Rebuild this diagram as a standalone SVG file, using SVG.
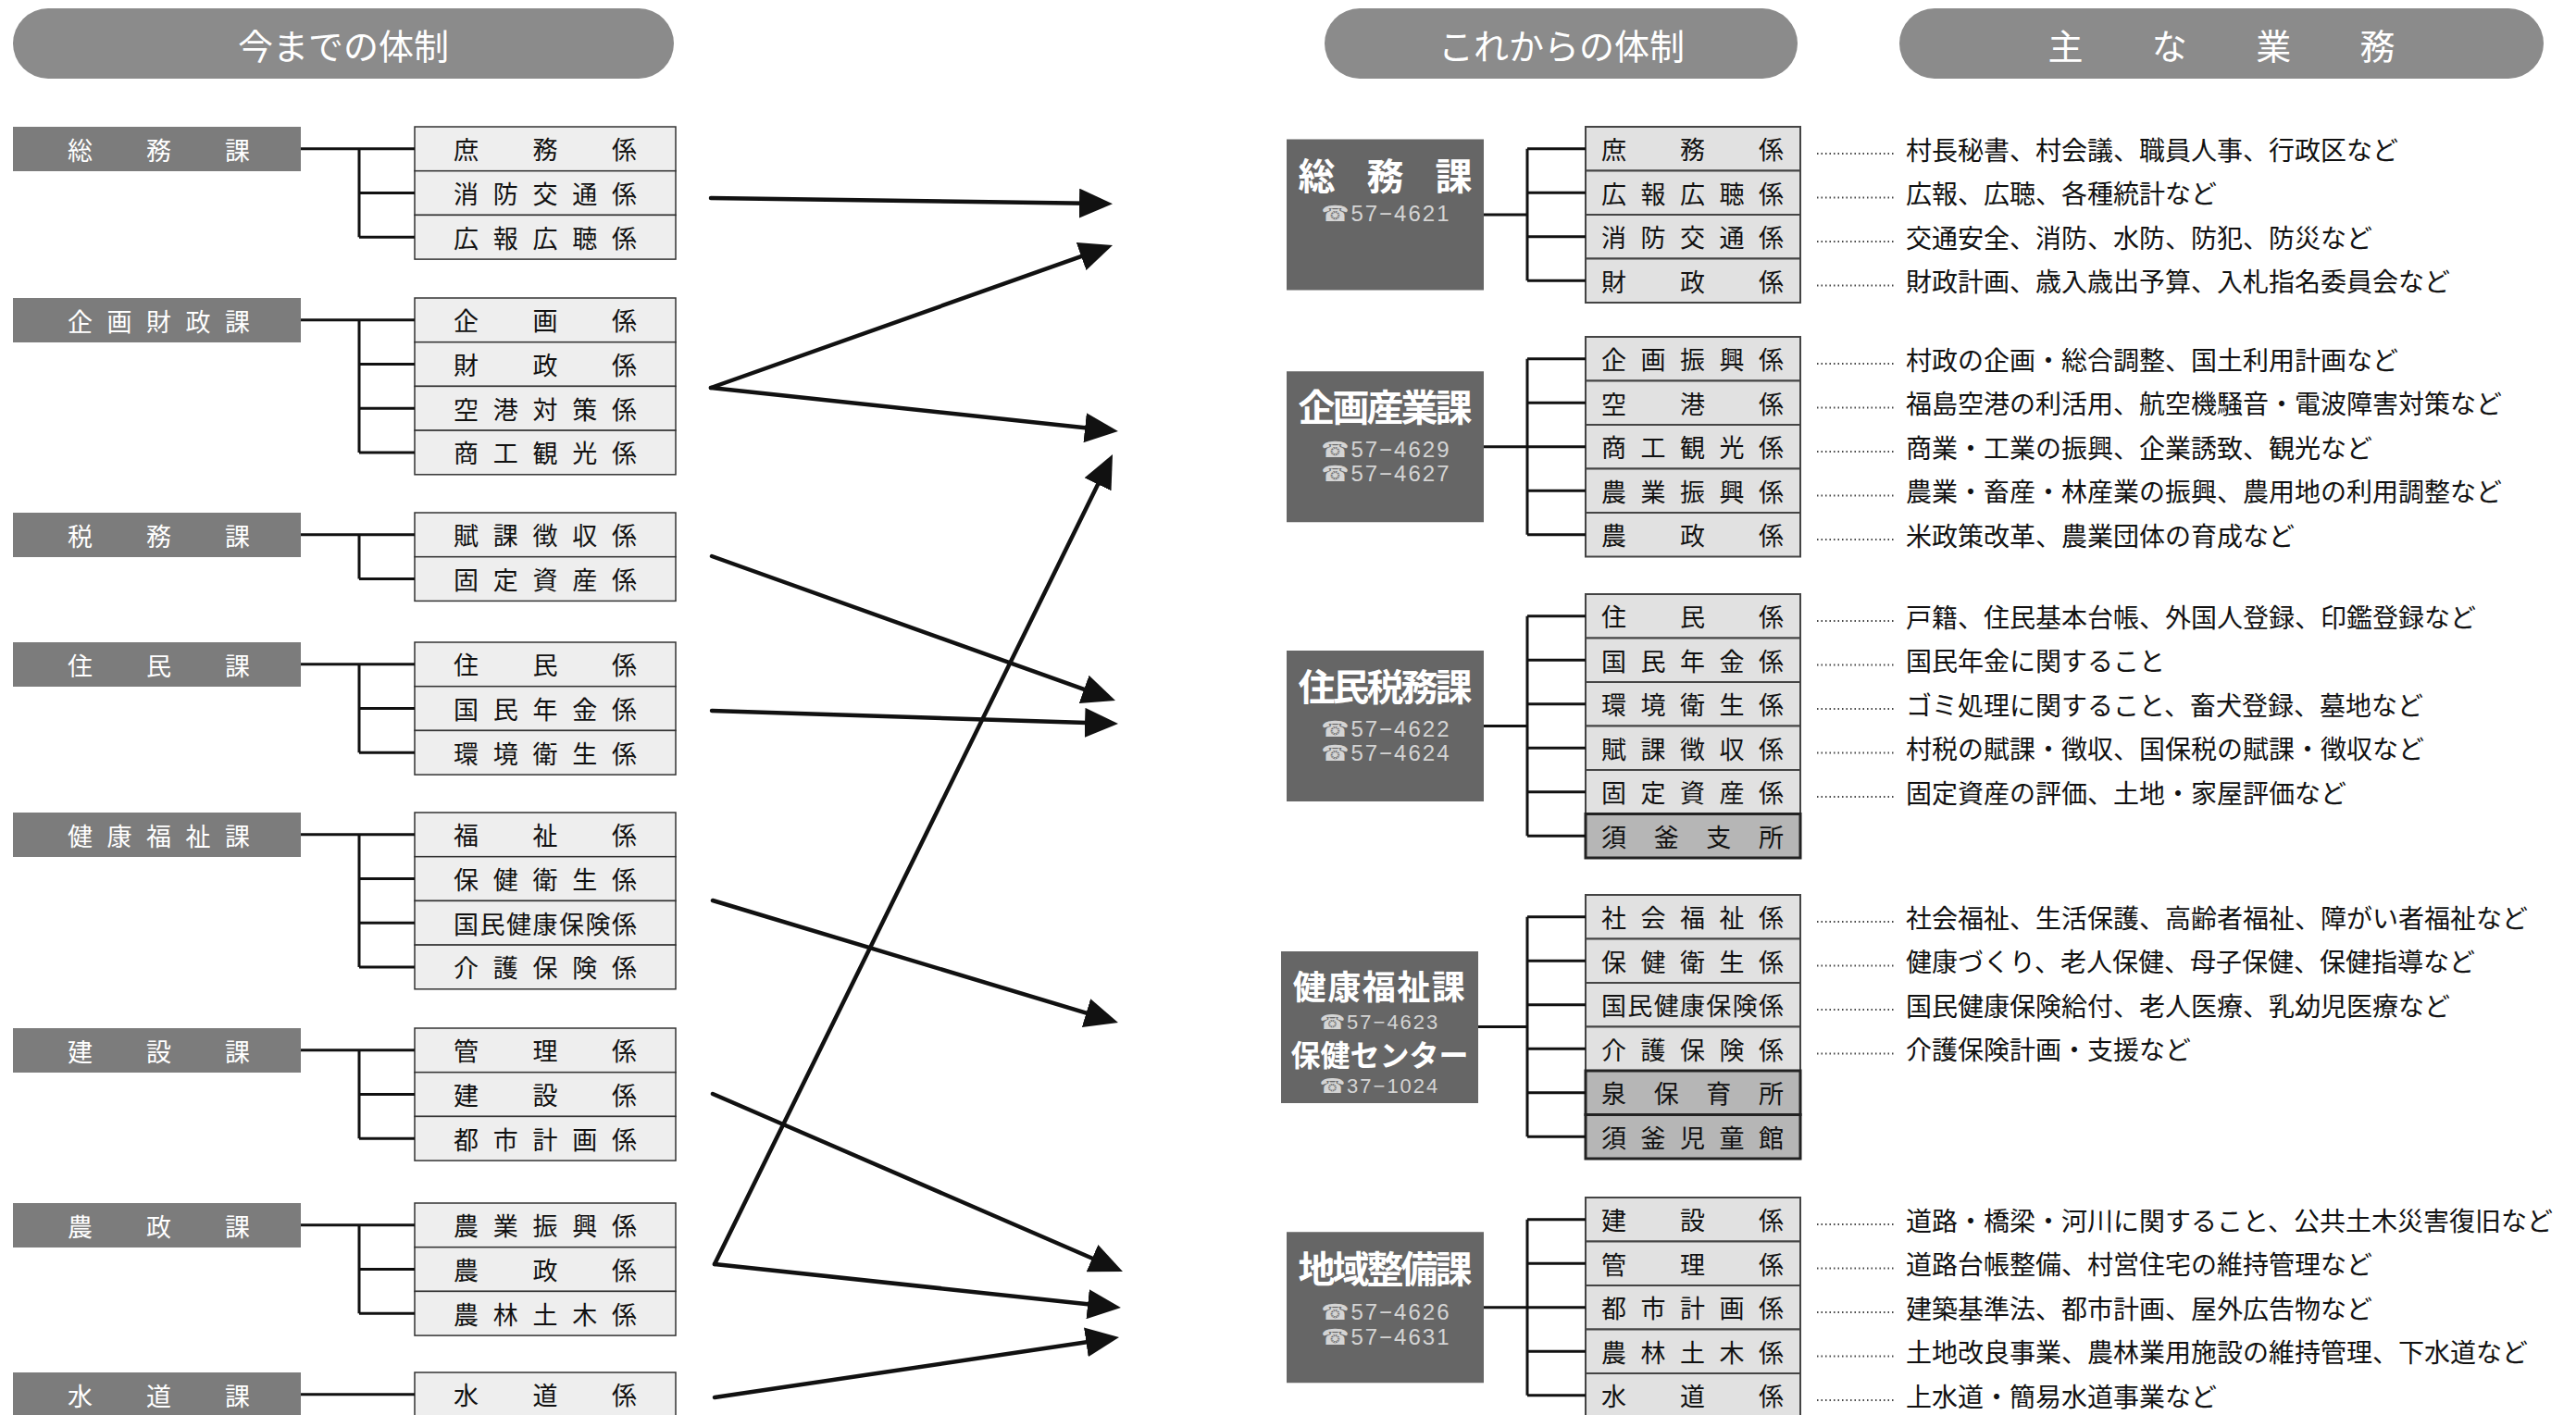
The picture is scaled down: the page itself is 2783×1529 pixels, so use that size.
<svg xmlns="http://www.w3.org/2000/svg" width="2783" height="1529" viewBox="0 0 2783 1529">
<defs>
<style>
text{font-family:"Noto Sans CJK JP",sans-serif;dominant-baseline:central}
.hdr{fill:#8b8b8b}
.hdrt{font-size:38px;fill:#fff;text-anchor:middle}
.od{fill:#7c7c7c}
.odt{font-size:27px;fill:#fff}
.os{fill:#eeeeee;stroke:#333;stroke-width:1.5}
.st{font-size:27px;fill:#111}
.nd{fill:#666}
.ndt{font-size:40px;font-weight:bold;fill:#fff;text-anchor:middle}
.ph{font-family:"Liberation Sans","DejaVu Sans",sans-serif;font-size:24px;fill:#d4d4d4;text-anchor:middle}
.ns{fill:#e1e1e1;stroke:#444;stroke-width:2}
.ns2{fill:#b6b6b6;stroke:#222;stroke-width:3}
.desc{font-size:28px;fill:#111}
.conn{stroke:#111;stroke-width:3;fill:none}
.lead{stroke:#444;stroke-width:2;stroke-dasharray:1.5 3;fill:none}
.arr{stroke:#111;stroke-width:4.5;fill:none;marker-end:url(#ah)}
</style>
<marker id="ah" markerUnits="userSpaceOnUse" markerWidth="36" markerHeight="32" refX="26" refY="16" orient="auto">
<path d="M0,0 L36,16 L0,32 Z" fill="#111"/>
</marker>
</defs>
<rect width="2783" height="1529" fill="#fff"/>

<!-- headers -->
<g id="hdr-old"><rect class="hdr" x="14" y="9" width="714" height="76" rx="38"/><text class="hdrt" x="371" y="47">今までの体制</text></g>
<g id="hdr-new"><rect class="hdr" x="1431" y="9" width="511" height="76" rx="38"/><text class="hdrt" x="1687" y="47">これからの体制</text></g>
<g id="hdr-duty"><rect class="hdr" x="2052" y="9" width="696" height="76" rx="38"/><text class="hdrt" x="2400" y="47" font-size="40" textLength="375" lengthAdjust="spacing">主　な　業　務</text></g>

<!-- old structure -->
<g id="old-somu" transform="translate(0,137)">
<rect class="od" x="14" y="0" width="311" height="48"/><text class="odt" x="73" y="24" textLength="197" lengthAdjust="spacing">総　務　課</text>
<rect class="os" x="448" y="0" width="282" height="47.7"/><text class="st" x="490" y="23.85" textLength="198" lengthAdjust="spacing">庶　務　係</text>
<rect class="os" x="448" y="47.7" width="282" height="47.7"/><text class="st" x="490" y="71.55" textLength="198" lengthAdjust="spacing">消防交通係</text>
<rect class="os" x="448" y="95.4" width="282" height="47.7"/><text class="st" x="490" y="119.25" textLength="198" lengthAdjust="spacing">広報広聴係</text>
</g>
<g id="old-kikakuzaisei" transform="translate(0,322)">
<rect class="od" x="14" y="0" width="311" height="48"/><text class="odt" x="73" y="24" textLength="197" lengthAdjust="spacing">企画財政課</text>
<rect class="os" x="448" y="0" width="282" height="47.7"/><text class="st" x="490" y="23.85" textLength="198" lengthAdjust="spacing">企　画　係</text>
<rect class="os" x="448" y="47.7" width="282" height="47.7"/><text class="st" x="490" y="71.55" textLength="198" lengthAdjust="spacing">財　政　係</text>
<rect class="os" x="448" y="95.4" width="282" height="47.7"/><text class="st" x="490" y="119.25" textLength="198" lengthAdjust="spacing">空港対策係</text>
<rect class="os" x="448" y="143.1" width="282" height="47.7"/><text class="st" x="490" y="166.95" textLength="198" lengthAdjust="spacing">商工観光係</text>
</g>
<g id="old-zeimu" transform="translate(0,554)">
<rect class="od" x="14" y="0" width="311" height="48" fill="#888"/><text class="odt" x="73" y="24" textLength="197" lengthAdjust="spacing">税　務　課</text>
<rect class="os" x="448" y="0" width="282" height="47.7"/><text class="st" x="490" y="23.85" textLength="198" lengthAdjust="spacing">賦課徴収係</text>
<rect class="os" x="448" y="47.7" width="282" height="47.7"/><text class="st" x="490" y="71.55" textLength="198" lengthAdjust="spacing">固定資産係</text>
</g>
<g id="old-jumin" transform="translate(0,694)">
<rect class="od" x="14" y="0" width="311" height="48"/><text class="odt" x="73" y="24" textLength="197" lengthAdjust="spacing">住　民　課</text>
<rect class="os" x="448" y="0" width="282" height="47.7"/><text class="st" x="490" y="23.85" textLength="198" lengthAdjust="spacing">住　民　係</text>
<rect class="os" x="448" y="47.7" width="282" height="47.7"/><text class="st" x="490" y="71.55" textLength="198" lengthAdjust="spacing">国民年金係</text>
<rect class="os" x="448" y="95.4" width="282" height="47.7"/><text class="st" x="490" y="119.25" textLength="198" lengthAdjust="spacing">環境衛生係</text>
</g>
<g id="old-kenkofukushi" transform="translate(0,878)">
<rect class="od" x="14" y="0" width="311" height="48"/><text class="odt" x="73" y="24" textLength="197" lengthAdjust="spacing">健康福祉課</text>
<rect class="os" x="448" y="0" width="282" height="47.7"/><text class="st" x="490" y="23.85" textLength="198" lengthAdjust="spacing">福　祉　係</text>
<rect class="os" x="448" y="47.7" width="282" height="47.7"/><text class="st" x="490" y="71.55" textLength="198" lengthAdjust="spacing">保健衛生係</text>
<rect class="os" x="448" y="95.4" width="282" height="47.7"/><text class="st" x="490" y="119.25" textLength="198" lengthAdjust="spacing">国民健康保険係</text>
<rect class="os" x="448" y="143.1" width="282" height="47.7"/><text class="st" x="490" y="166.95" textLength="198" lengthAdjust="spacing">介護保険係</text>
</g>
<g id="old-kensetsu" transform="translate(0,1111)">
<rect class="od" x="14" y="0" width="311" height="48"/><text class="odt" x="73" y="24" textLength="197" lengthAdjust="spacing">建　設　課</text>
<rect class="os" x="448" y="0" width="282" height="47.7"/><text class="st" x="490" y="23.85" textLength="198" lengthAdjust="spacing">管　理　係</text>
<rect class="os" x="448" y="47.7" width="282" height="47.7"/><text class="st" x="490" y="71.55" textLength="198" lengthAdjust="spacing">建　設　係</text>
<rect class="os" x="448" y="95.4" width="282" height="47.7"/><text class="st" x="490" y="119.25" textLength="198" lengthAdjust="spacing">都市計画係</text>
</g>
<g id="old-nosei" transform="translate(0,1300)">
<rect class="od" x="14" y="0" width="311" height="48"/><text class="odt" x="73" y="24" textLength="197" lengthAdjust="spacing">農　政　課</text>
<rect class="os" x="448" y="0" width="282" height="47.7"/><text class="st" x="490" y="23.85" textLength="198" lengthAdjust="spacing">農業振興係</text>
<rect class="os" x="448" y="47.7" width="282" height="47.7"/><text class="st" x="490" y="71.55" textLength="198" lengthAdjust="spacing">農　政　係</text>
<rect class="os" x="448" y="95.4" width="282" height="47.7"/><text class="st" x="490" y="119.25" textLength="198" lengthAdjust="spacing">農林土木係</text>
</g>
<g id="old-suido" transform="translate(0,1483)">
<rect class="od" x="14" y="0" width="311" height="48" fill="#888"/><text class="odt" x="73" y="24" textLength="197" lengthAdjust="spacing">水　道　課</text>
<rect class="os" x="448" y="0" width="282" height="47.7"/><text class="st" x="490" y="23.85" textLength="198" lengthAdjust="spacing">水　道　係</text>
</g>

<!-- new structure -->
<g id="new-somu" transform="translate(0,137)">
<rect class="nd" x="1390" y="13.5" width="213" height="163"/>
<text class="ndt" x="1496.5" y="50.5" textLength="188" lengthAdjust="spacing">総　務　課</text>
<text class="ph" x="1496.5" y="93.5" textLength="138" lengthAdjust="spacing">☎57−4621</text>
<rect class="ns" x="1713" y="0" width="232" height="47.5"/><text class="st" x="1730" y="23.75" textLength="197" lengthAdjust="spacing">庶　務　係</text>
<rect class="ns" x="1713" y="47.5" width="232" height="47.5"/><text class="st" x="1730" y="71.25" textLength="197" lengthAdjust="spacing">広報広聴係</text>
<rect class="ns" x="1713" y="95" width="232" height="47.5"/><text class="st" x="1730" y="118.75" textLength="197" lengthAdjust="spacing">消防交通係</text>
<rect class="ns" x="1713" y="142.5" width="232" height="47.5"/><text class="st" x="1730" y="166.25" textLength="197" lengthAdjust="spacing">財　政　係</text>
<text class="desc" x="2059" y="23.75">村長秘書、村会議、職員人事、行政区など</text>
<text class="desc" x="2059" y="71.25">広報、広聴、各種統計など</text>
<text class="desc" x="2059" y="118.75">交通安全、消防、水防、防犯、防災など</text>
<text class="desc" x="2059" y="166.25">財政計画、歳入歳出予算、入札指名委員会など</text>
</g>
<g id="new-kikakusangyo" transform="translate(0,364)">
<rect class="nd" x="1390" y="37.25" width="213" height="163"/>
<text class="ndt" x="1496.5" y="74.25" textLength="188" lengthAdjust="spacing">企画産業課</text>
<text class="ph" x="1496.5" y="121.25" textLength="138" lengthAdjust="spacing">☎57−4629</text>
<text class="ph" x="1496.5" y="147.25" textLength="138" lengthAdjust="spacing">☎57−4627</text>
<rect class="ns" x="1713" y="0" width="232" height="47.5"/><text class="st" x="1730" y="23.75" textLength="197" lengthAdjust="spacing">企画振興係</text>
<rect class="ns" x="1713" y="47.5" width="232" height="47.5"/><text class="st" x="1730" y="71.25" textLength="197" lengthAdjust="spacing">空　港　係</text>
<rect class="ns" x="1713" y="95" width="232" height="47.5"/><text class="st" x="1730" y="118.75" textLength="197" lengthAdjust="spacing">商工観光係</text>
<rect class="ns" x="1713" y="142.5" width="232" height="47.5"/><text class="st" x="1730" y="166.25" textLength="197" lengthAdjust="spacing">農業振興係</text>
<rect class="ns" x="1713" y="190" width="232" height="47.5"/><text class="st" x="1730" y="213.75" textLength="197" lengthAdjust="spacing">農　政　係</text>
<text class="desc" x="2059" y="23.75">村政の企画・総合調整、国土利用計画など</text>
<text class="desc" x="2059" y="71.25">福島空港の利活用、航空機騒音・電波障害対策など</text>
<text class="desc" x="2059" y="118.75">商業・工業の振興、企業誘致、観光など</text>
<text class="desc" x="2059" y="166.25">農業・畜産・林産業の振興、農用地の利用調整など</text>
<text class="desc" x="2059" y="213.75">米政策改革、農業団体の育成など</text>
</g>
<g id="new-juminzeimu" transform="translate(0,642)">
<rect class="nd" x="1390" y="61" width="213" height="163"/>
<text class="ndt" x="1496.5" y="98" textLength="188" lengthAdjust="spacing">住民税務課</text>
<text class="ph" x="1496.5" y="145" textLength="138" lengthAdjust="spacing">☎57−4622</text>
<text class="ph" x="1496.5" y="171" textLength="138" lengthAdjust="spacing">☎57−4624</text>
<rect class="ns" x="1713" y="0" width="232" height="47.5"/><text class="st" x="1730" y="23.75" textLength="197" lengthAdjust="spacing">住　民　係</text>
<rect class="ns" x="1713" y="47.5" width="232" height="47.5"/><text class="st" x="1730" y="71.25" textLength="197" lengthAdjust="spacing">国民年金係</text>
<rect class="ns" x="1713" y="95" width="232" height="47.5"/><text class="st" x="1730" y="118.75" textLength="197" lengthAdjust="spacing">環境衛生係</text>
<rect class="ns" x="1713" y="142.5" width="232" height="47.5"/><text class="st" x="1730" y="166.25" textLength="197" lengthAdjust="spacing">賦課徴収係</text>
<rect class="ns" x="1713" y="190" width="232" height="47.5"/><text class="st" x="1730" y="213.75" textLength="197" lengthAdjust="spacing">固定資産係</text>
<rect class="ns2" x="1713" y="237.5" width="232" height="47.5"/><text class="st" x="1730" y="261.25" textLength="197" lengthAdjust="spacing">須　釜　支　所</text>
<text class="desc" x="2059" y="23.75">戸籍、住民基本台帳、外国人登録、印鑑登録など</text>
<text class="desc" x="2059" y="71.25">国民年金に関すること</text>
<text class="desc" x="2059" y="118.75">ゴミ処理に関すること、畜犬登録、墓地など</text>
<text class="desc" x="2059" y="166.25">村税の賦課・徴収、国保税の賦課・徴収など</text>
<text class="desc" x="2059" y="213.75">固定資産の評価、土地・家屋評価など</text>
</g>
<g id="new-kenkofukushi" transform="translate(0,967)">
<rect class="nd" x="1384" y="61" width="213" height="164"/>
<text text-anchor="middle" fill="#fff"><tspan x="1490.5" y="97" font-size="36" font-weight="bold" letter-spacing="1.5">健康福祉課</tspan><tspan x="1490.5" y="137" font-family="Liberation Sans, DejaVu Sans, sans-serif" font-size="22" fill="#d4d4d4" letter-spacing="2">☎57−4623</tspan><tspan x="1490.5" y="171" font-size="32" font-weight="bold">保健センター</tspan><tspan x="1490.5" y="206" font-family="Liberation Sans, DejaVu Sans, sans-serif" font-size="22" fill="#d4d4d4" letter-spacing="2">☎37−1024</tspan></text>
<rect class="ns" x="1713" y="0" width="232" height="47.5"/><text class="st" x="1730" y="23.75" textLength="197" lengthAdjust="spacing">社会福祉係</text>
<rect class="ns" x="1713" y="47.5" width="232" height="47.5"/><text class="st" x="1730" y="71.25" textLength="197" lengthAdjust="spacing">保健衛生係</text>
<rect class="ns" x="1713" y="95" width="232" height="47.5"/><text class="st" x="1730" y="118.75" textLength="197" lengthAdjust="spacing">国民健康保険係</text>
<rect class="ns" x="1713" y="142.5" width="232" height="47.5"/><text class="st" x="1730" y="166.25" textLength="197" lengthAdjust="spacing">介護保険係</text>
<rect class="ns2" x="1713" y="190" width="232" height="47.5"/><text class="st" x="1730" y="213.75" textLength="197" lengthAdjust="spacing">泉　保　育　所</text>
<rect class="ns2" x="1713" y="237.5" width="232" height="47.5"/><text class="st" x="1730" y="261.25" textLength="197" lengthAdjust="spacing">須釜児童館</text>
<text class="desc" x="2059" y="23.75">社会福祉、生活保護、高齢者福祉、障がい者福祉など</text>
<text class="desc" x="2059" y="71.25">健康づくり、老人保健、母子保健、保健指導など</text>
<text class="desc" x="2059" y="118.75">国民健康保険給付、老人医療、乳幼児医療など</text>
<text class="desc" x="2059" y="166.25">介護保険計画・支援など</text>
</g>
<g id="new-chiikiseibi" transform="translate(0,1294)">
<rect class="nd" x="1390" y="37.25" width="213" height="163"/>
<text class="ndt" x="1496.5" y="75" textLength="188" lengthAdjust="spacing">地域整備課</text>
<text class="ph" x="1496.5" y="123" textLength="138" lengthAdjust="spacing">☎57−4626</text>
<text class="ph" x="1496.5" y="150" textLength="138" lengthAdjust="spacing">☎57−4631</text>
<rect class="ns" x="1713" y="0" width="232" height="47.5"/><text class="st" x="1730" y="23.75" textLength="197" lengthAdjust="spacing">建　設　係</text>
<rect class="ns" x="1713" y="47.5" width="232" height="47.5"/><text class="st" x="1730" y="71.25" textLength="197" lengthAdjust="spacing">管　理　係</text>
<rect class="ns" x="1713" y="95" width="232" height="47.5"/><text class="st" x="1730" y="118.75" textLength="197" lengthAdjust="spacing">都市計画係</text>
<rect class="ns" x="1713" y="142.5" width="232" height="47.5"/><text class="st" x="1730" y="166.25" textLength="197" lengthAdjust="spacing">農林土木係</text>
<rect class="ns" x="1713" y="190" width="232" height="47.5"/><text class="st" x="1730" y="213.75" textLength="197" lengthAdjust="spacing">水　道　係</text>
<text class="desc" x="2059" y="23.75">道路・橋梁・河川に関すること、公共土木災害復旧など</text>
<text class="desc" x="2059" y="71.25">道路台帳整備、村営住宅の維持管理など</text>
<text class="desc" x="2059" y="118.75">建築基準法、都市計画、屋外広告物など</text>
<text class="desc" x="2059" y="166.25">土地改良事業、農林業用施設の維持管理、下水道など</text>
<text class="desc" x="2059" y="213.75">上水道・簡易水道事業など</text>
</g>

<!-- connectors -->
<g id="connectors">
<g class="conn">
<path transform="translate(0,137)" d="M325,23.85H448M388,23.85V119.25M388,71.55H448M388,119.25H448"/>
<path transform="translate(0,322)" d="M325,23.85H448M388,23.85V166.95M388,71.55H448M388,119.25H448M388,166.95H448"/>
<path transform="translate(0,554)" d="M325,23.85H448M388,23.85V71.55M388,71.55H448"/>
<path transform="translate(0,694)" d="M325,23.85H448M388,23.85V119.25M388,71.55H448M388,119.25H448"/>
<path transform="translate(0,878)" d="M325,23.85H448M388,23.85V166.95M388,71.55H448M388,119.25H448M388,166.95H448"/>
<path transform="translate(0,1111)" d="M325,23.85H448M388,23.85V119.25M388,71.55H448M388,119.25H448"/>
<path transform="translate(0,1300)" d="M325,23.85H448M388,23.85V119.25M388,71.55H448M388,119.25H448"/>
<path transform="translate(0,1483)" d="M325,23.85H448"/>
<path transform="translate(0,137)" d="M1603,95H1650M1650,23.75V166.25M1650,23.75H1713M1650,71.25H1713M1650,118.75H1713M1650,166.25H1713"/>
<path transform="translate(0,364)" d="M1603,118.75H1650M1650,23.75V213.75M1650,23.75H1713M1650,71.25H1713M1650,118.75H1713M1650,166.25H1713M1650,213.75H1713"/>
<path transform="translate(0,642)" d="M1603,142.5H1650M1650,23.75V261.25M1650,23.75H1713M1650,71.25H1713M1650,118.75H1713M1650,166.25H1713M1650,213.75H1713M1650,261.25H1713"/>
<path transform="translate(0,967)" d="M1597,142.5H1650M1650,23.75V261.25M1650,23.75H1713M1650,71.25H1713M1650,118.75H1713M1650,166.25H1713M1650,213.75H1713M1650,261.25H1713"/>
<path transform="translate(0,1294)" d="M1603,118.75H1650M1650,23.75V213.75M1650,23.75H1713M1650,71.25H1713M1650,118.75H1713M1650,166.25H1713M1650,213.75H1713"/>
</g>
<g class="lead">
<path transform="translate(0,137)" d="M1963,29H2048M1963,76.5H2048M1963,124H2048M1963,171.5H2048"/>
<path transform="translate(0,364)" d="M1963,29H2048M1963,76.5H2048M1963,124H2048M1963,171.5H2048M1963,219H2048"/>
<path transform="translate(0,642)" d="M1963,29H2048M1963,76.5H2048M1963,124H2048M1963,171.5H2048M1963,219H2048"/>
<path transform="translate(0,967)" d="M1963,29H2048M1963,76.5H2048M1963,124H2048M1963,171.5H2048"/>
<path transform="translate(0,1294)" d="M1963,29H2048M1963,76.5H2048M1963,124H2048M1963,171.5H2048M1963,219H2048"/>
</g>
<g id="arrows" stroke-linecap="round">
<line class="arr" x1="768" y1="214" x2="1192" y2="220"/>
<line class="arr" x1="768" y1="419" x2="1192.6" y2="268.3"/>
<line class="arr" x1="768" y1="419" x2="1198" y2="465"/>
<line class="arr" x1="769" y1="601" x2="1195.6" y2="753.6"/>
<line class="arr" x1="769" y1="768" x2="1198" y2="781.7"/>
<line class="arr" x1="770" y1="973" x2="1198.4" y2="1102.1"/>
<line class="arr" x1="770" y1="1182" x2="1203.8" y2="1370"/>
<line class="arr" x1="772" y1="1366" x2="1197.6" y2="500"/>
<line class="arr" x1="772" y1="1366" x2="1201" y2="1412"/>
<line class="arr" x1="772" y1="1510" x2="1199.1" y2="1446.5"/>
</g>
</g>
</svg>
